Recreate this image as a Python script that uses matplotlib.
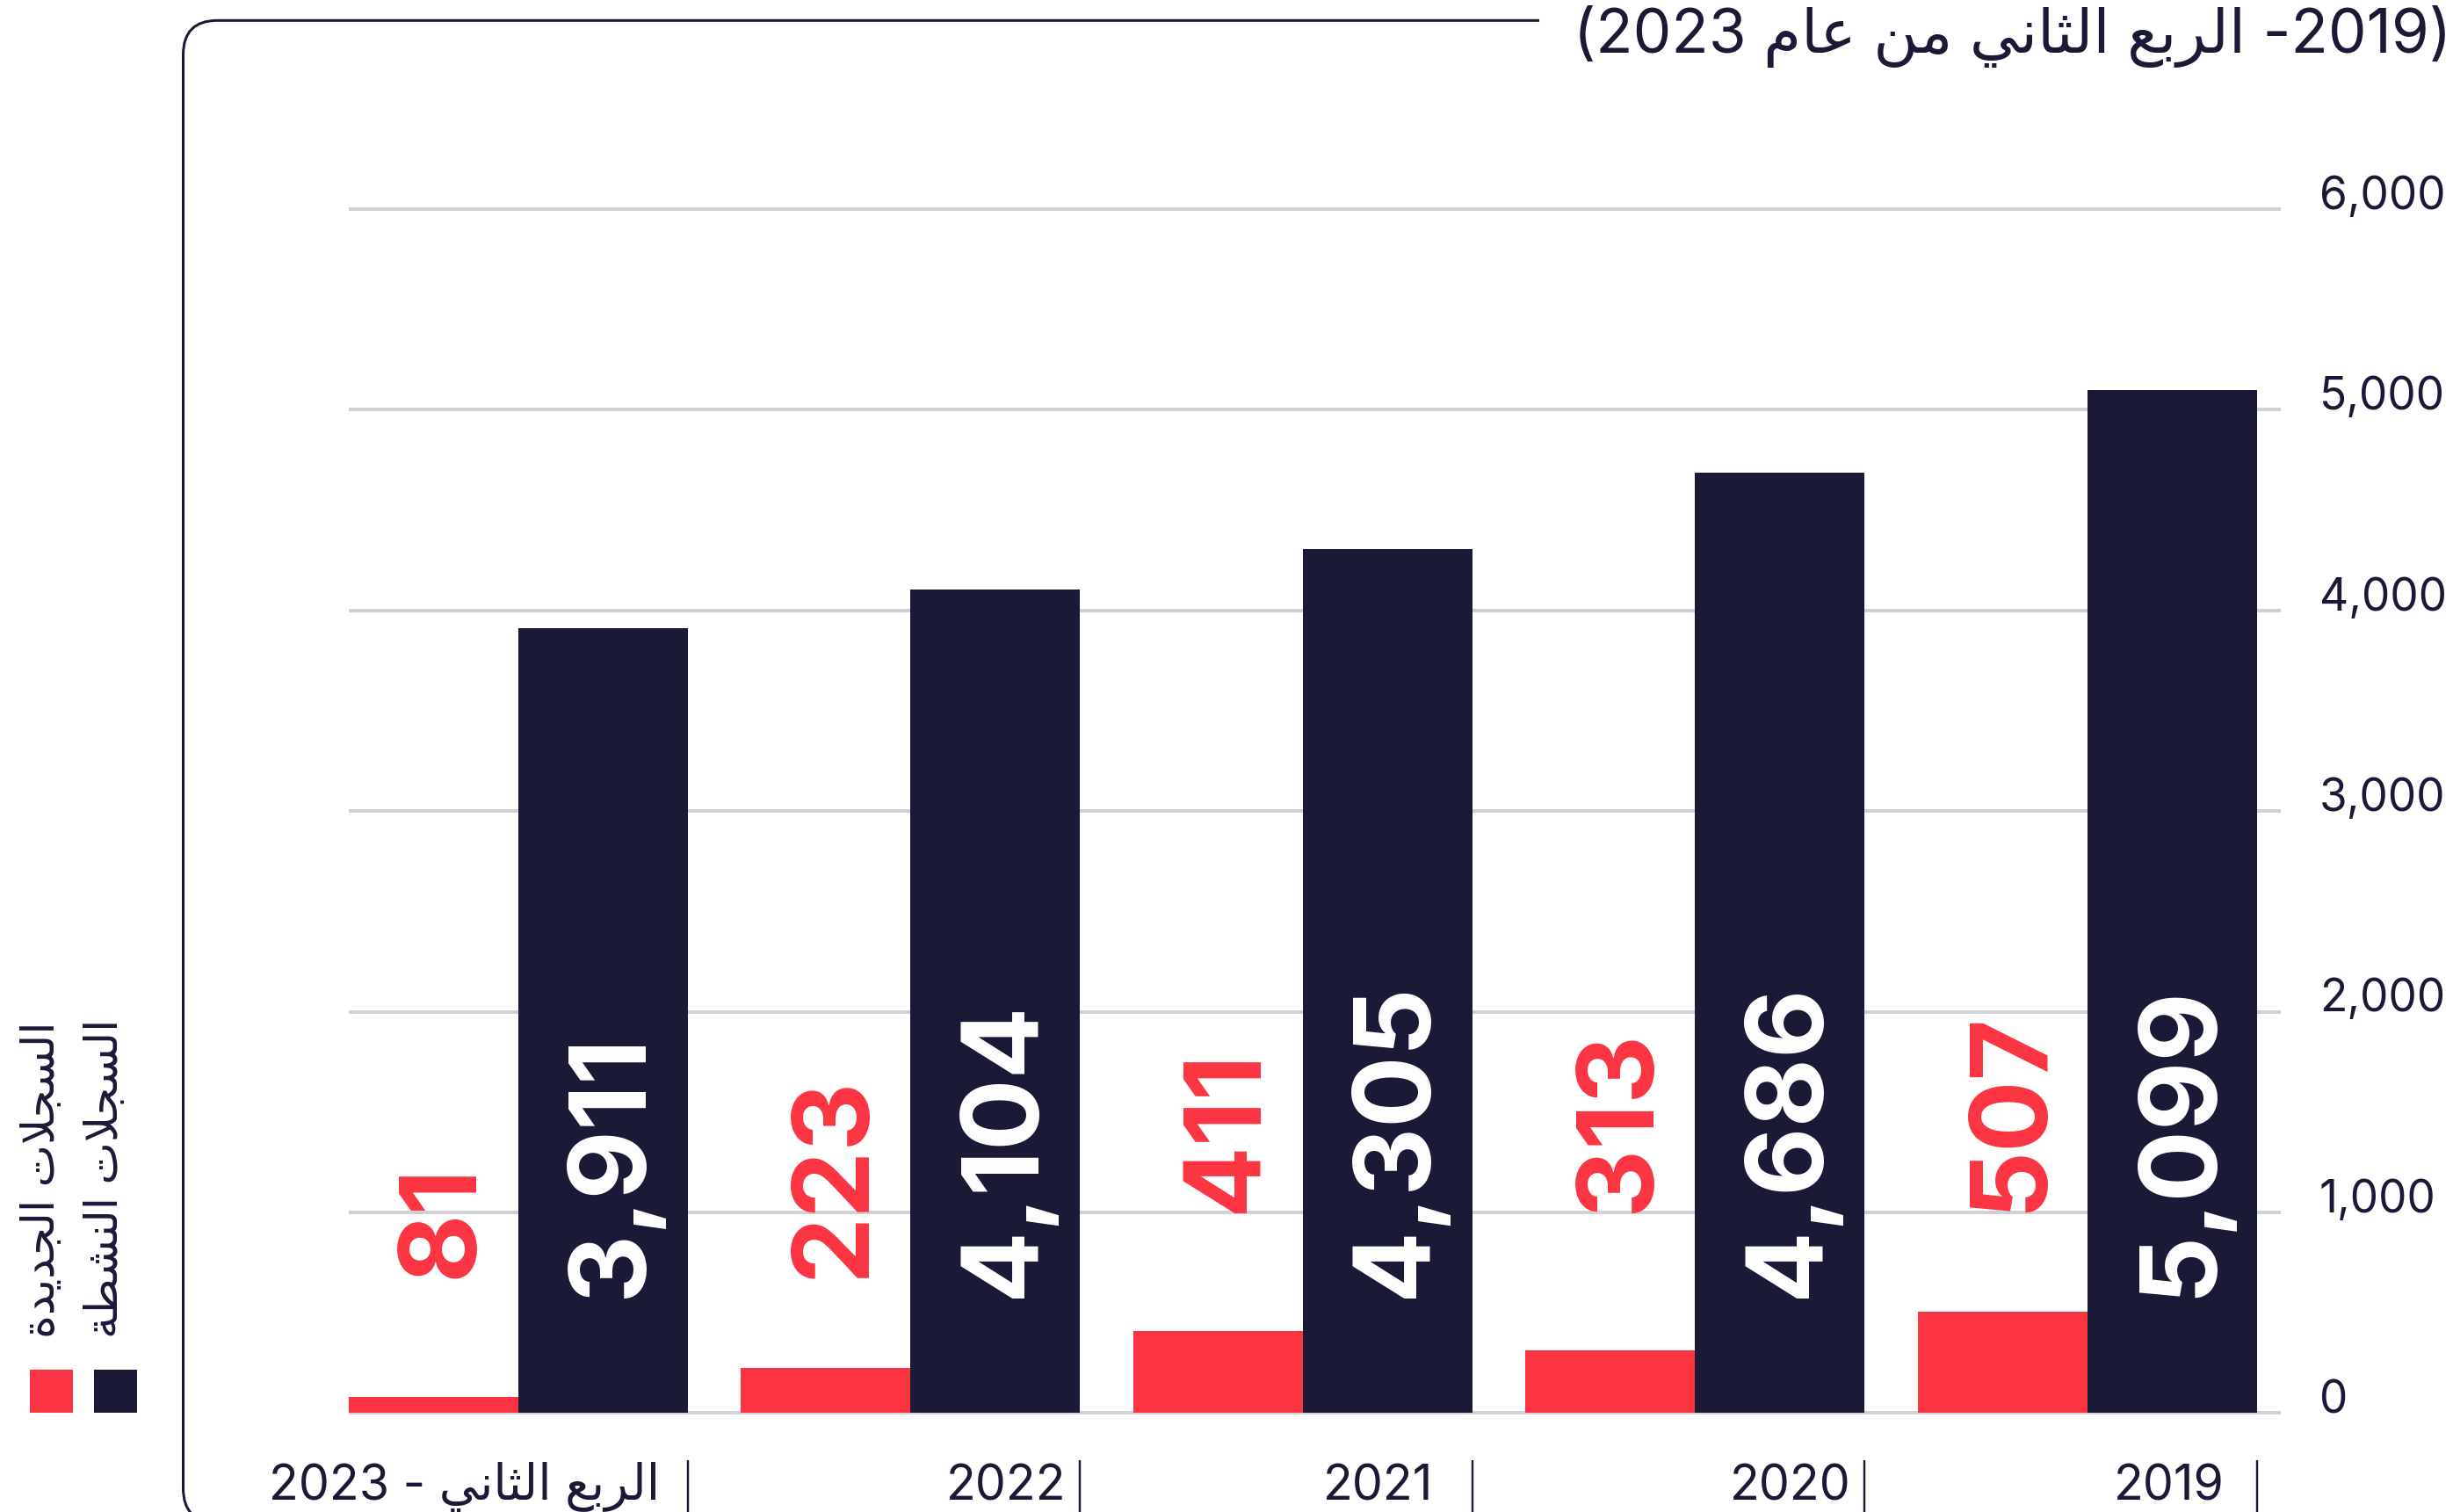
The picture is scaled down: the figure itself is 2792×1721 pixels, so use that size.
import re
import numpy as np
import matplotlib
matplotlib.use('Agg')
import matplotlib.pyplot as plt
from matplotlib.patches import Rectangle, PathPatch
from matplotlib.path import Path
import matplotlib.transforms as mtransforms

# ---------------- data ----------------
periods = ['2019', '2020', '2021', '2022', 'الربع الثاني - 2023']
new_records = [507, 313, 411, 223, 81]
active_records = [5099, 4686, 4305, 4104, 3911]
y_ticks = [0, 1000, 2000, 3000, 4000, 5000, 6000]
legend_labels = ['السجلات الجديدة', 'السجلات النشطة']
title_text = '(2019- الربع الثاني من عام 2023)'

# ---------------- style / layout ----------------
W, H, DPI = 2792, 1721, 100
RED = '#FC3441'
NAVY = '#1B1A36'
GRID = '#D0D0D8'
FAM = ['Inter', 'DejaVu Sans']
red_label_start = [1000, 1000, 1000, 670, 670]   # y where rotated label begins
dark_label_start = 573
xlabel_gap_px = [37, 16, 45, 16, 32]

# ---------------- minimal Arabic shaping + bidi ----------------
AR_FORMS = {
    '\u0627': ('\uFE8D', '\uFE8E', None, None),
    '\u0628': ('\uFE8F', '\uFE90', '\uFE91', '\uFE92'),
    '\u0629': ('\uFE93', '\uFE94', None, None),
    '\u062A': ('\uFE95', '\uFE96', '\uFE97', '\uFE98'),
    '\u062B': ('\uFE99', '\uFE9A', '\uFE9B', '\uFE9C'),
    '\u062C': ('\uFE9D', '\uFE9E', '\uFE9F', '\uFEA0'),
    '\u062F': ('\uFEA9', '\uFEAA', None, None),
    '\u0631': ('\uFEAD', '\uFEAE', None, None),
    '\u0633': ('\uFEB1', '\uFEB2', '\uFEB3', '\uFEB4'),
    '\u0634': ('\uFEB5', '\uFEB6', '\uFEB7', '\uFEB8'),
    '\u0637': ('\uFEC1', '\uFEC2', '\uFEC3', '\uFEC4'),
    '\u0639': ('\uFEC9', '\uFECA', '\uFECB', '\uFECC'),
    '\u0644': ('\uFEDD', '\uFEDE', '\uFEDF', '\uFEE0'),
    '\u0645': ('\uFEE1', '\uFEE2', '\uFEE3', '\uFEE4'),
    '\u0646': ('\uFEE5', '\uFEE6', '\uFEE7', '\uFEE8'),
    '\u064A': ('\uFEF1', '\uFEF2', '\uFEF3', '\uFEF4'),
}


def _dual(c):
    return c in AR_FORMS and AR_FORMS[c][2] is not None


def shape(s):
    out, i, n = [], 0, len(s)
    while i < n:
        c = s[i]
        if c not in AR_FORMS:
            out.append(c)
            i += 1
            continue
        jp = i > 0 and _dual(s[i - 1])
        if c == '\u0644' and i + 1 < n and s[i + 1] == '\u0627':
            out.append('\uFEFC' if jp else '\uFEFB')
            i += 2
            continue
        nxt = s[i + 1] if i + 1 < n else ''
        jn = _dual(c) and nxt in AR_FORMS
        iso, fin, ini, med = AR_FORMS[c]
        out.append(med if (jp and jn) else fin if jp else ini if jn else iso)
        i += 1
    return ''.join(out)


def ar(s):
    t = shape(s)[::-1]
    t = re.sub(r'[0-9][0-9,.]*', lambda m: m.group(0)[::-1], t)
    return t.translate(str.maketrans('()', ')('))


def fx(px):
    return px / W


def fy(py):
    return 1 - py / H


# ---------------- figure ----------------
fig = plt.figure(figsize=(W / DPI, H / DPI), dpi=DPI)
fig.patch.set_facecolor('white')

px_per_k = 228.45           # pixels per 1000 units
y0_px, top_px = 1608.4, 237.7
pad_units = 100
ax_bottom = y0_px + pad_units / 1000 * px_per_k
ax_top = top_px - pad_units / 1000 * px_per_k
ax_left, ax_right = 397, 2596
ax = fig.add_axes([fx(ax_left), fy(ax_bottom), (ax_right - ax_left) / W,
                   (ax_bottom - ax_top) / H])

n = len(periods)
idx = np.arange(n)
pitch_px = 446.5
w = 193 / pitch_px
ax.set_xlim((n - 1) + w, -(ax_right - 2375.8) / pitch_px)   # inverted: RTL
ax.set_ylim(-pad_units, 6000 + pad_units)

ax.bar(idx, new_records, width=w, align='edge', color=RED, zorder=2)
ax.bar(idx, active_records, width=-w, align='edge', color=NAVY, zorder=2)

ax.set_yticks(y_ticks)
ax.set_xticks([])
ax.grid(axis='y', color=GRID, lw=4 * 72 / DPI, zorder=0)
ax.set_axisbelow(True)
ax.tick_params(length=0, labelleft=False, labelbottom=False)
for s in ax.spines.values():
    s.set_visible(False)

# bar value labels (rotated)
cap_half_px = 43.9
off = mtransforms.offset_copy(ax.transData, fig=fig, x=cap_half_px, y=0, units='dots')
for j in idx:
    ax.text(j + w / 2, red_label_start[j], f'{new_records[j]:,}', rotation=90,
            rotation_mode='anchor', ha='left', va='baseline', fontsize=87,
            fontweight='bold', color=RED, family=FAM, transform=off, zorder=3)
    ax.text(j - w / 2, dark_label_start, f'{active_records[j]:,}', rotation=90,
            rotation_mode='anchor', ha='left', va='baseline', fontsize=87,
            fontweight='bold', color='white', family=FAM, transform=off, zorder=3)

# y tick labels on the right
ytr = mtransforms.blended_transform_factory(fig.transFigure, ax.transData)
for v in y_ticks:
    ax.text(fx(2640), v, f'{v:,}', transform=ytr, ha='left', va='baseline',
            fontsize=37, color=NAVY, family=FAM, clip_on=False)

# x category labels with separator ticks
xtr = mtransforms.blended_transform_factory(ax.transData, fig.transFigure)
for j in idx:
    xt = j - w
    ax.plot([xt, xt], [fy(1662), fy(1725)], transform=xtr, color=NAVY,
            lw=2.4 * 72 / DPI, clip_on=False, solid_capstyle='butt')
    lt = mtransforms.offset_copy(xtr, fig=fig, x=-xlabel_gap_px[j], y=0, units='dots')
    ax.text(xt, fy(1707), ar(periods[j]), transform=lt, ha='right', va='baseline',
            fontsize=40, color=NAVY, family=FAM, clip_on=False)

# title
fig.text(fx(2790), fy(60), ar(title_text), ha='right', va='baseline',
         fontsize=50, color=NAVY, family=FAM)

# legend
legend_colors = [RED, NAVY]
sq_x = [34.4, 107.3]
txt_x = [48.8, 120.5]
for lab, col, sx, tx in zip(legend_labels, legend_colors, sq_x, txt_x):
    fig.add_artist(Rectangle((fx(sx), fy(1608)), 48.8 / W, 48.6 / H,
                             transform=fig.transFigure, color=col, lw=0))
    fig.text(fx(tx), fy(1523), ar(lab), rotation=90, rotation_mode='anchor',
             ha='left', va='center', fontsize=37, color=NAVY, family=FAM)

# rounded frame (open on the right)
verts = [(1752, 23.3), (247.5, 23.3), (208.5, 23.3), (208.5, 62.3),
         (208.5, 1694), (208.5, 1733), (247.5, 1733), (600, 1733)]
codes = [Path.MOVETO, Path.LINETO, Path.CURVE3, Path.CURVE3,
         Path.LINETO, Path.CURVE3, Path.CURVE3, Path.LINETO]
frame = Path([(fx(a), fy(b)) for a, b in verts], codes)
fig.add_artist(PathPatch(frame, fill=False, edgecolor=NAVY, lw=3 * 72 / DPI,
                         transform=fig.transFigure))

fig.savefig('out.png', dpi=DPI)
